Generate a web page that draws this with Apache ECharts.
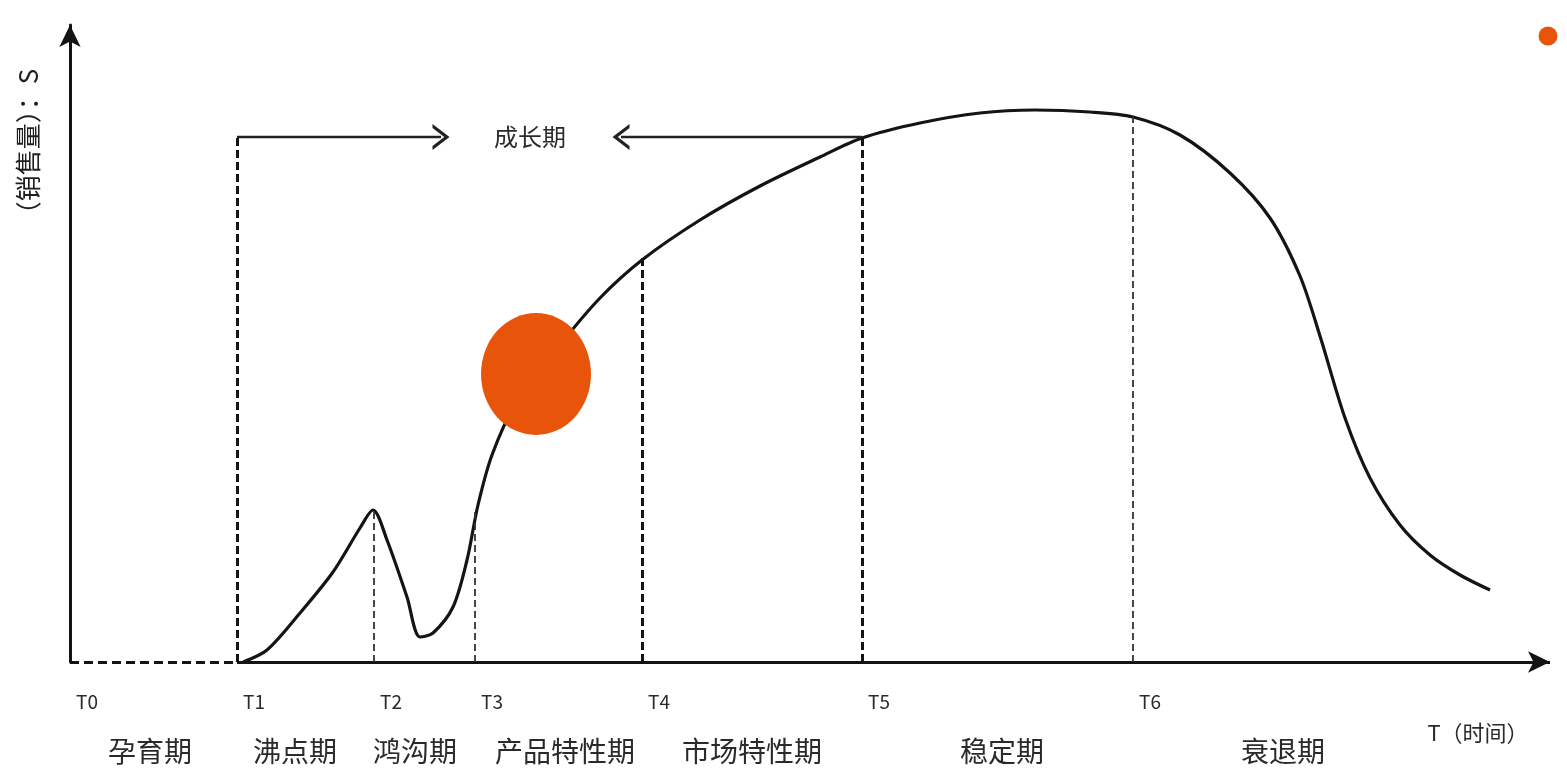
<!DOCTYPE html>
<html>
<head>
<meta charset="utf-8">
<title>企业生命周期</title>
<script src="https://cdn.jsdelivr.net/npm/echarts@6/dist/echarts.min.js"></script>
<style>
  html, body { margin: 0; padding: 0; background: #fff; }
  #chart { width: 1567px; height: 768px; }
</style>
</head>
<body>
<div id="chart"></div>
<script>
// Time markers on the T axis
const tickNames = ['T0', 'T1', 'T2', 'T3', 'T4', 'T5', 'T6'];
const tickX = [0, 16.7, 30.4, 40.5, 57.2, 79.2, 106.3];
// Height of each dashed guide (T1..T6)
const guideTop = [52.5, 15.2, 15.0, 40.4, 52.5, 54.5];

// Stage names and the middle of each stage on the T axis
const periodNames = ['孕育期', '沸点期', '鸿沟期', '产品特性期', '市场特性期', '稳定期', '衰退期'];
const periodCenters = [8.0, 22.5, 34.5, 49.5, 68.2, 93.2, 121.3];

// Sales curve S over time T
const curveX = [17.3, 19.7, 23.0, 26.3, 29.0, 30.3, 31.7, 33.7, 35.0, 36.3, 38.3, 39.7, 40.8, 42.2,
  44.5, 49.0, 53.0, 57.2, 63.0, 69.0, 75.0, 79.2, 85.0, 91.0, 96.5, 102.0, 106.3,
  111.0, 116.0, 120.0, 123.0, 125.0, 127.5, 130.0, 133.0, 136.0, 139.0, 142.0];
const curveY = [0, 1.2, 4.9, 9.0, 13.4, 15.2, 12.2, 6.5, 2.5, 2.9, 5.5, 10.2, 15.7, 20.7,
  25.7, 31.7, 36.4, 40.2, 44.2, 47.6, 50.5, 52.4, 53.9, 54.9, 55.2, 55.0, 54.5,
  52.7, 48.9, 44.4, 38.6, 32.6, 24.4, 18.4, 13.7, 10.7, 8.7, 7.2];

// Growth stage bracket: arrows from T1 and from T5 pointing at the label
const growthLabel = '成长期';
const growthLevel = 52.5;
const growthArrowLeft = [16.7, 37.1];
const growthArrowRight = [79.2, 55.1];
const growthLabelX = 46.0;

// Highlight markers
const dotNames = ['当前', '标记'];
const dotX = [46.6, 147.8];
const dotY = [28.8, 62.6];

const axisName = 'T（时间）';
const valueName = '（销售量）：S';

const X_MAX = 148;
const Y_MAX = 63.7;
const FONT = '"Noto Sans CJK SC", "Noto Sans", sans-serif';
const INK = '#141414';
const ORANGE = '#E8550A';
const chevron = 'path://M0,13 L10,0 L20,13 L17,13 L10,4 L3,13 Z';

const chart = echarts.init(document.getElementById('chart'), null, { renderer: 'canvas' });

function pickName(names, values, v) {
  let best = 0;
  for (let i = 1; i < values.length; i++) {
    if (Math.abs(values[i] - v) < Math.abs(values[best] - v)) best = i;
  }
  return names[best];
}

const guideLines = tickX.slice(1).map((x, i) => {
  const heavy = (i === 0 || i === 3 || i === 4);
  return [
    { coord: [x, 0], symbol: 'none',
      lineStyle: { color: heavy ? INK : '#333', width: heavy ? 3 : 1.8, type: heavy ? [8, 4] : [7, 4] } },
    { coord: [x, guideTop[i]], symbol: 'none' }
  ];
});

const option = {
  animation: false,
  backgroundColor: '#ffffff',
  grid: { left: 70, right: 17, top: 25, bottom: 106, containLabel: false },
  xAxis: [
    {
      type: 'value', position: 'bottom', min: 0, max: X_MAX,
      axisLine: { show: false },
      axisTick: { show: false },
      splitLine: { show: false },
      axisLabel: {
        customValues: tickX,
        formatter: v => pickName(tickNames, tickX, v),
        align: 'left', padding: [0, 0, 0, 6], margin: 30,
        fontFamily: FONT, fontSize: 19, color: '#2a2a2a'
      }
    },
    {
      type: 'value', position: 'bottom', min: 0, max: X_MAX,
      axisLine: { show: false },
      axisTick: { show: false },
      splitLine: { show: false },
      axisLabel: {
        customValues: periodCenters,
        formatter: v => pickName(periodNames, periodCenters, v),
        align: 'center', margin: 75,
        fontFamily: FONT, fontSize: 28, color: '#2a2a2a'
      }
    }
  ],
  yAxis: {
    type: 'value', min: 0, max: Y_MAX,
    axisLine: { show: true, symbol: ['none', 'arrow'], symbolSize: [16, 22],
      lineStyle: { color: INK, width: 3 } },
    axisTick: { show: false },
    axisLabel: { show: false },
    splitLine: { show: false }
  },
  graphic: [
    {
      type: 'text', x: 28, y: 148, rotation: Math.PI / 2,
      style: { text: valueName, font: '26px ' + FONT, fill: '#1e1e1e',
        align: 'center', verticalAlign: 'middle' }
    },
    {
      type: 'text', x: 1478, y: 733,
      style: { text: axisName, font: '22px ' + FONT, fill: '#2a2a2a',
        align: 'center', verticalAlign: 'middle' }
    }
  ],
  series: [
    {
      name: '销售量',
      type: 'line',
      data: curveX.map((x, i) => [x, curveY[i]]),
      smooth: 0.3,
      showSymbol: false,
      lineStyle: { color: INK, width: 3.2 },
      z: 3,
      markLine: {
        silent: true,
        symbol: 'none',
        label: { show: false },
        data: [
          // T axis: dashed before T1, solid afterwards with arrow
          [ { coord: [0, 0], symbol: 'none', lineStyle: { color: INK, width: 3, type: [9, 5] } },
            { coord: [tickX[1], 0], symbol: 'none' } ],
          [ { coord: [tickX[1], 0], symbol: 'none', lineStyle: { color: INK, width: 3, type: 'solid' } },
            { coord: [X_MAX, 0], symbol: 'arrow', symbolSize: [16, 22] } ],
          ...guideLines,
          [ { coord: [growthArrowLeft[0], growthLevel], symbol: 'none', lineStyle: { color: '#222', width: 2.4, type: 'solid' } },
            { coord: [growthArrowLeft[1], growthLevel], symbol: chevron, symbolSize: [26, 17] } ],
          [ { coord: [growthArrowRight[0], growthLevel], symbol: 'none', lineStyle: { color: '#222', width: 2.4, type: 'solid' } },
            { coord: [growthArrowRight[1], growthLevel], symbol: chevron, symbolSize: [26, 17] } ]
        ]
      },
      markPoint: {
        silent: true,
        symbol: 'circle', symbolSize: 0,
        label: { show: true, position: 'inside', formatter: growthLabel,
          fontFamily: FONT, fontSize: 24, color: '#2a2a2a' },
        data: [ { coord: [growthLabelX, growthLevel] } ]
      }
    },
    {
      name: '标记',
      type: 'scatter',
      z: 5,
      data: dotX.map((x, i) => ({
        name: dotNames[i],
        value: [x, dotY[i]],
        symbolSize: i === 0 ? [110, 122] : 19
      })),
      itemStyle: { color: ORANGE, opacity: 1 }
    }
  ]
};

chart.setOption(option);
</script>
</body>
</html>
